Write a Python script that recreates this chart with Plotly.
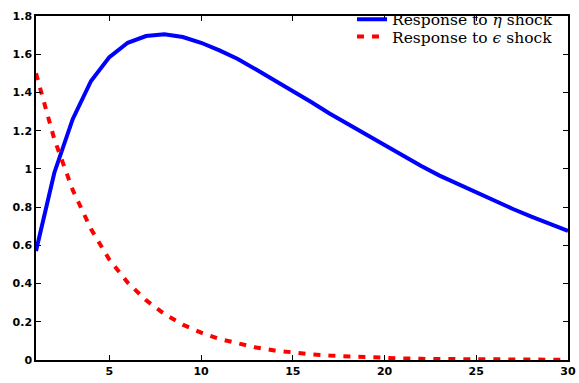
import plotly.graph_objects as go

periods = list(range(1, 31))
eta_response = [0.57, 0.98, 1.26, 1.46, 1.585, 1.66, 1.695, 1.705, 1.69, 1.66,
                1.62, 1.575, 1.52, 1.465, 1.405, 1.35, 1.29, 1.235, 1.175, 1.12,
                1.07, 1.015, 0.965, 0.92, 0.875, 0.83, 0.79, 0.75, 0.71, 0.675]
eps_response = [1.5, 1.155, 0.89, 0.685, 0.525, 0.405, 0.313, 0.241, 0.185, 0.143,
                0.110, 0.085, 0.065, 0.050, 0.039, 0.030, 0.023, 0.018, 0.014, 0.010,
                0.008, 0.006, 0.005, 0.004, 0.003, 0.002, 0.002, 0.001, 0.001, 0.001]
x_ticks = [5, 10, 15, 20, 25, 30]
y_ticks = [0, 0.2, 0.4, 0.6, 0.8, 1, 1.2, 1.4, 1.6, 1.8]
y_tick_text = ["0", "0.2", "0.4", "0.6", "0.8", "1", "1.2", "1.4", "1.6", "1.8"]

fig = go.Figure()
fig.add_trace(go.Scatter(x=periods, y=eta_response, mode="lines",
                         name="Response to <i>η</i> shock", legend="legend",
                         line=dict(color="#0000ff", width=4)))
fig.add_trace(go.Scatter(x=periods, y=eps_response, mode="lines",
                         name="Response to <i>ϵ</i> shock", legend="legend2",
                         line=dict(color="#ff0000", width=4, dash="7px,8px")))

axis_common = dict(showgrid=False, zeroline=False, showline=True, linecolor="black",
                   linewidth=1.5, mirror="ticks", ticks="inside", ticklen=5,
                   tickcolor="black", tickwidth=1, ticklabeloverflow="allow",
                   tickfont=dict(family="DejaVu Sans", size=11, color="black", weight="bold"))

fig.update_xaxes(range=[1, 30], tickvals=x_ticks, **axis_common)
fig.update_yaxes(range=[0, 1.8], tickvals=y_ticks, ticktext=y_tick_text, **axis_common)

legend_font = dict(family="DejaVu Serif", size=15.5, color="black")
legend_common = dict(xanchor="left", yanchor="middle", x=0.594,
                     bgcolor="rgba(255,255,255,0)", borderwidth=0,
                     font=legend_font, itemwidth=30)

fig.update_layout(
    width=579, height=383,
    margin=dict(l=36, r=3, t=3, b=23),
    paper_bgcolor="white", plot_bgcolor="white",
    legend=dict(y=0.989, **legend_common),
    legend2=dict(y=0.939, **legend_common),
    showlegend=True,
)

fig.write_html("out.html", config={"displayModeBar": False},
               post_script="document.body.style.margin='0';document.body.style.padding='0';")
